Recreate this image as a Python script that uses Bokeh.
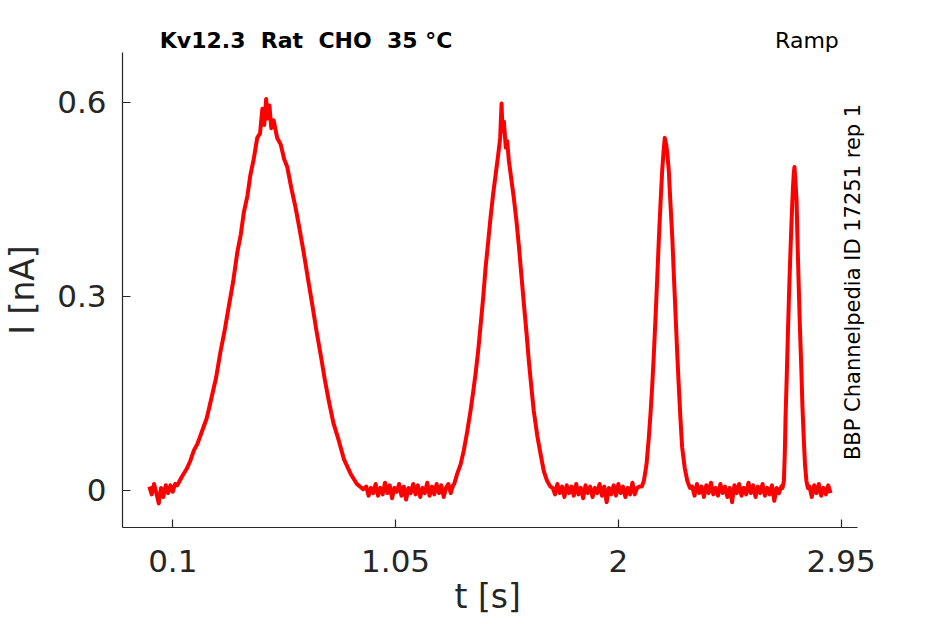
from math import pi
from bokeh.plotting import figure
from bokeh.layouts import column
from bokeh.models import Range1d, FixedTicker, Label, Title
from bokeh.embed import file_html
from bokeh.resources import INLINE

# ---------------- data ----------------
SAMPLE_STEP = 0.01  # s, spacing of the baseline samples

# baseline noise segments: start time and values [nA]
base0_start = 0.0
base0_vals = [0.006, -0.006, 0.010, -0.004, -0.020, 0.004, -0.010, 0.008, -0.004, 0.008, -0.002, 0.010]
base1_start = 0.925
base1_vals = [0.006, -0.008, 0.004, -0.004, 0.010, -0.008, 0.004, -0.006, 0.012, -0.004, 0.008, -0.012,
              0.004, -0.002, 0.010, -0.008, 0.006, -0.014, 0.004, -0.004, 0.010, -0.006, 0.008, -0.010,
              0.004, -0.004, 0.012, -0.008, 0.006, -0.006, 0.010, -0.004, 0.008, -0.010, 0.004, 0.010,
              -0.004, 0.008]
base2_start = 1.72
base2_vals = [0.004, -0.006, 0.010, -0.004, 0.006, -0.010, 0.008, -0.004, 0.006, -0.008, 0.010, -0.006,
              0.004, -0.012, 0.008, -0.004, 0.006, -0.010, 0.004, -0.004, 0.010, -0.008, 0.006, -0.018,
              0.004, -0.006, 0.008, -0.008, 0.010, -0.004, 0.006, -0.010, 0.004, -0.006, 0.012, -0.006,
              0.004, 0.006]
base3_start = 2.315
base3_vals = [0.006, -0.008, 0.010, -0.004, 0.006, -0.010, 0.008, -0.004, 0.012, -0.006, 0.004, -0.008,
              0.010, -0.004, 0.006, -0.010, 0.004, -0.018, 0.008, -0.004, 0.010, -0.008, 0.004, -0.006,
              0.012, -0.004, 0.008, -0.010, 0.006, -0.004, 0.010, -0.008, 0.004, -0.006, 0.008, -0.016,
              0.004, -0.004, 0.006]
base4_start = 2.815
base4_vals = [0.006, -0.010, 0.008, -0.004, 0.010, -0.008, 0.004, -0.006, 0.008, -0.004]

# ramp responses (peaks)
peak1_t = [0.119, 0.140, 0.160, 0.175, 0.190, 0.205, 0.225, 0.245, 0.268, 0.285, 0.303, 0.320, 0.339,
           0.357, 0.375, 0.390, 0.403, 0.418, 0.431, 0.445, 0.460, 0.472, 0.482, 0.490, 0.498, 0.505,
           0.512, 0.520, 0.530, 0.545, 0.560, 0.575, 0.588, 0.605, 0.623, 0.640, 0.659, 0.676, 0.694,
           0.712, 0.730, 0.748, 0.765, 0.785, 0.808, 0.830, 0.858, 0.885, 0.912]
peak1_i = [0.008, 0.022, 0.034, 0.046, 0.062, 0.072, 0.092, 0.112, 0.148, 0.175, 0.214, 0.245, 0.285,
           0.322, 0.368, 0.396, 0.430, 0.455, 0.488, 0.512, 0.545, 0.552, 0.590, 0.565, 0.605, 0.575,
           0.595, 0.560, 0.572, 0.545, 0.535, 0.512, 0.500, 0.468, 0.438, 0.405, 0.366, 0.328, 0.289,
           0.248, 0.211, 0.172, 0.139, 0.104, 0.077, 0.048, 0.026, 0.010, 0.002]
peak2_t = [1.300, 1.313, 1.327, 1.341, 1.355, 1.370, 1.380, 1.391, 1.402, 1.413, 1.424, 1.434, 1.445,
           1.455, 1.466, 1.477, 1.488, 1.496, 1.502, 1.506, 1.512, 1.520, 1.526, 1.533, 1.544, 1.554,
           1.565, 1.575, 1.586, 1.597, 1.608, 1.618, 1.629, 1.639, 1.654, 1.668, 1.682, 1.696, 1.710]
peak2_i = [0.010, 0.026, 0.040, 0.062, 0.090, 0.124, 0.150, 0.180, 0.215, 0.257, 0.300, 0.345, 0.385,
           0.422, 0.458, 0.489, 0.520, 0.545, 0.598, 0.555, 0.570, 0.530, 0.540, 0.510, 0.480, 0.453,
           0.418, 0.381, 0.335, 0.289, 0.245, 0.201, 0.160, 0.124, 0.085, 0.057, 0.030, 0.015, 0.006]
peak3_t = [2.100, 2.109, 2.120, 2.130, 2.137, 2.144, 2.151, 2.158, 2.166, 2.173, 2.180, 2.187, 2.193,
           2.198, 2.204, 2.209, 2.215, 2.222, 2.230, 2.237, 2.244, 2.251, 2.258, 2.265, 2.272, 2.283,
           2.294, 2.305]
peak3_i = [0.006, 0.015, 0.040, 0.082, 0.118, 0.159, 0.208, 0.263, 0.330, 0.391, 0.445, 0.495, 0.525,
           0.545, 0.535, 0.520, 0.495, 0.445, 0.391, 0.330, 0.272, 0.212, 0.159, 0.110, 0.067, 0.035,
           0.015, 0.004]
peak4_t = [2.700, 2.706, 2.710, 2.713, 2.718, 2.723, 2.728, 2.734, 2.739, 2.744, 2.748, 2.751, 2.755,
           2.760, 2.764, 2.769, 2.774, 2.780, 2.785, 2.791, 2.796, 2.802, 2.808]
peak4_i = [0.004, 0.015, 0.060, 0.113, 0.175, 0.242, 0.305, 0.371, 0.420, 0.464, 0.490, 0.500, 0.480,
           0.448, 0.385, 0.319, 0.255, 0.191, 0.130, 0.077, 0.040, 0.015, 0.004]

x_ticks = [0.1, 1.05, 2, 2.95]
x_tick_labels = ["0.1", "1.05", "2", "2.95"]
y_ticks = [0, 0.3, 0.6]
y_tick_labels = ["0", "0.3", "0.6"]

title_text = "Kv12.3\u00a0 Rat\u00a0 CHO\u00a0 35 °C"
protocol_text = "Ramp"
source_text = "BBP Channelpedia ID 17251 rep 1"
x_label = "t [s]"
y_label = "I [nA]"

# ---------------- assemble trace ----------------
def base_seg(start, vals):
    return [start + k * SAMPLE_STEP for k in range(len(vals))], list(vals)

segments = [
    base_seg(base0_start, base0_vals), (peak1_t, peak1_i),
    base_seg(base1_start, base1_vals), (peak2_t, peak2_i),
    base_seg(base2_start, base2_vals), (peak3_t, peak3_i),
    base_seg(base3_start, base3_vals), (peak4_t, peak4_i),
    base_seg(base4_start, base4_vals),
]
t_all, i_all = [], []
for ts, vs in segments:
    t_all += list(ts)
    i_all += list(vs)

# ---------------- geometry ----------------
PX_PER_S = 234.5
PX_PER_NA = 647.0
W = 945
HEAD_H = 52                 # header strip holding the title line
LEFT_B, BOTTOM_B = 122, 97
FRAME_W = W - LEFT_B
FRAME_H = 527 - HEAD_H

X_AX0 = -0.1145                       # left end of the x axis
X_AX_END = 3.0185                     # right end of the drawn x axis
X1 = X_AX0 + FRAME_W / PX_PER_S       # frame continues to the right edge (note area)
Y_AX0 = -0.0572
Y1 = Y_AX0 + FRAME_H / PX_PER_NA
Y_HEAD1 = Y1 + HEAD_H / PX_PER_NA

AX = "#262626"
FONT = "DejaVu Sans"
LBL_SHIFT = 7  # px, compensates the Label baseline placement

# header: title and protocol (frame aligned with the main frame)
head = figure(frame_width=FRAME_W, frame_height=HEAD_H,
              x_range=Range1d(X_AX0, X1), y_range=Range1d(Y1, Y_HEAD1),
              x_axis_type=None, y_axis_type=None, output_backend="svg", toolbar_location=None,
              min_border_left=LEFT_B, min_border_right=0, min_border_top=0, min_border_bottom=0,
              background_fill_color="white", border_fill_color="white")
head.outline_line_color = None
head.grid.visible = False
y_title = 0.6852 + LBL_SHIFT / PX_PER_NA
head.add_layout(Label(x=0.0446, y=y_title, text=title_text, text_font=FONT, text_font_style="bold",
                      text_font_size="22px", text_color="black", text_align="left",
                      text_baseline="alphabetic"))
head.add_layout(Label(x=2.940, y=y_title, text=protocol_text, text_font=FONT,
                      text_font_size="22px", text_color="black", text_align="right",
                      text_baseline="alphabetic"))

# main plot
p = figure(frame_width=FRAME_W, frame_height=FRAME_H,
           min_border_left=LEFT_B, min_border_right=0, min_border_top=0, min_border_bottom=BOTTOM_B,
           x_range=Range1d(X_AX0, X1), y_range=Range1d(Y_AX0, Y1),
           output_backend="svg", toolbar_location=None,
           background_fill_color="white", border_fill_color="white")
p.outline_line_color = None
p.grid.visible = False

p.line(t_all, i_all, line_color="#ff0000", line_width=4.0, line_join="round")

for ax, ticks, labels in ((p.xaxis, x_ticks, x_tick_labels), (p.yaxis, y_ticks, y_tick_labels)):
    ax.ticker = FixedTicker(ticks=ticks)
    ax.major_label_overrides = {tk: lb for tk, lb in zip(ticks, labels)}
    ax.axis_line_color = AX
    ax.axis_line_width = 1.2
    ax.major_tick_line_color = AX
    ax.major_tick_line_width = 1.2
    ax.major_tick_in = 8
    ax.major_tick_out = 0
    ax.minor_tick_line_color = None
    ax.major_label_text_font = FONT
    ax.major_label_text_font_size = "31px"
    ax.major_label_text_color = AX
    ax.axis_label_text_font = FONT
    ax.axis_label_text_font_size = "33px"
    ax.axis_label_text_font_style = "normal"
    ax.axis_label_text_color = AX

p.xaxis.bounds = (X_AX0, X_AX_END)
p.xaxis.major_label_standoff = 22
p.yaxis.major_label_standoff = 16
p.yaxis.axis_label = y_label
p.yaxis.axis_label_standoff = 12

# x-axis label, centred under the drawn axis (not under the wider frame)
p.add_layout(Title(text=x_label, align="left", offset=332, standoff=4, vertical_align="top",
                   text_font=FONT, text_font_size="33px", text_font_style="normal",
                   text_color=AX), "below")

# source note, right of the axes
p.add_layout(Label(x=3.0326 - LBL_SHIFT / PX_PER_S, y=0.3223, text=source_text, text_font=FONT,
                   angle=pi / 2, text_font_size="21px", text_color="black", text_align="center",
                   text_baseline="alphabetic"))

layout = column(head, p, spacing=0)
open("out.html", "w").write(file_html(layout, INLINE))
